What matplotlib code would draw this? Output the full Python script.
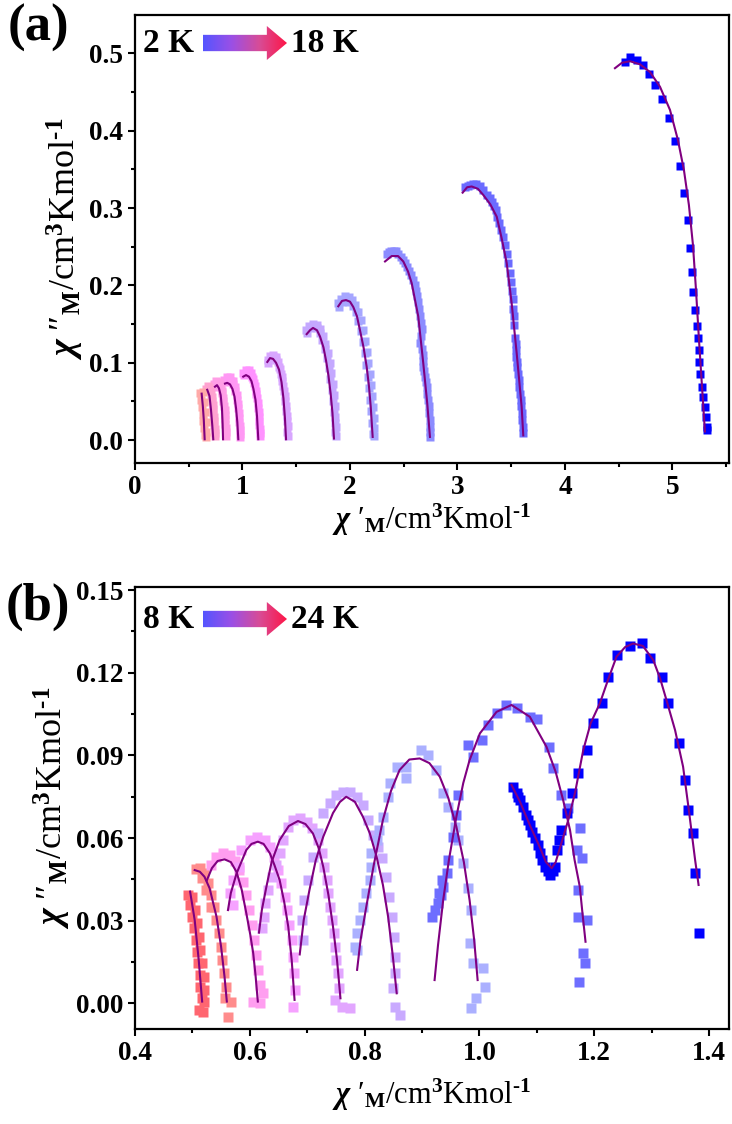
import numpy as np
import matplotlib
matplotlib.use("Agg")
import matplotlib.pyplot as plt
import matplotlib.ticker as mticker
from matplotlib.colors import LinearSegmentedColormap
from matplotlib.patches import Polygon

# ---- panel (a): 2 K -> 18 K, Cole-Cole data (chi', chi'') ----
a_colors = ["#0000ff", "#6b6bff", "#8c8cff", "#a6a6ff", "#c4a8ff", "#d8a6ff",
            "#ff92ff", "#ff98f4", "#ff9ee6", "#ffa2d0", "#ffaaa8"]

a_data = [
    [(4.558, 0.489), (4.605, 0.495), (4.667, 0.492), (4.723, 0.485), (4.779, 0.473),
     (4.837, 0.459), (4.902, 0.441), (4.965, 0.416), (5.023, 0.387), (5.070, 0.354),
     (5.110, 0.319), (5.147, 0.284), (5.163, 0.249), (5.181, 0.218), (5.193, 0.192),
     (5.212, 0.168), (5.225, 0.148), (5.237, 0.132), (5.244, 0.116), (5.249, 0.101),
     (5.256, 0.086), (5.272, 0.069), (5.287, 0.056), (5.302, 0.043), (5.312, 0.030),
     (5.318, 0.017), (5.318, 0.013)],
    [(3.070, 0.327), (3.116, 0.330), (3.172, 0.331), (3.240, 0.324), (3.277, 0.317),
     (3.318, 0.308), (3.355, 0.297), (3.389, 0.281), (3.426, 0.263), (3.458, 0.241),
     (3.488, 0.216), (3.504, 0.193), (3.519, 0.170), (3.528, 0.149), (3.535, 0.132),
     (3.544, 0.116), (3.551, 0.101), (3.566, 0.086), (3.575, 0.069), (3.588, 0.052),
     (3.597, 0.035), (3.607, 0.017), (3.612, 0.009),
     (3.094, 0.329), (3.146, 0.331), (3.205, 0.329), (3.298, 0.313), (3.337, 0.303),
     (3.372, 0.289), (3.408, 0.272), (3.442, 0.252), (3.473, 0.229), (3.496, 0.205),
     (3.512, 0.182), (3.524, 0.160), (3.540, 0.124), (3.548, 0.108), (3.558, 0.094),
     (3.570, 0.078), (3.582, 0.060), (3.593, 0.044), (3.602, 0.026)],
    [(2.341, 0.241), (2.381, 0.244), (2.428, 0.244), (2.472, 0.237), (2.512, 0.229),
     (2.552, 0.219), (2.589, 0.207), (2.614, 0.193), (2.635, 0.178), (2.651, 0.160),
     (2.667, 0.143), (2.651, 0.125), (2.676, 0.110), (2.682, 0.095), (2.698, 0.082),
     (2.714, 0.069), (2.728, 0.052), (2.738, 0.035), (2.744, 0.017), (2.744, 0.004),
     (2.360, 0.243), (2.405, 0.245), (2.450, 0.241), (2.492, 0.233), (2.532, 0.224),
     (2.571, 0.213), (2.602, 0.200), (2.625, 0.186), (2.643, 0.169), (2.660, 0.151),
     (2.664, 0.134), (2.668, 0.118), (2.680, 0.102), (2.690, 0.089), (2.706, 0.075),
     (2.721, 0.060), (2.733, 0.044), (2.741, 0.026), (2.744, 0.010)],
    [(1.888, 0.177), (1.916, 0.183), (1.953, 0.186), (1.991, 0.185), (2.019, 0.181),
     (2.047, 0.175), (2.074, 0.166), (2.098, 0.155), (2.121, 0.142), (2.140, 0.128),
     (2.158, 0.114), (2.172, 0.100), (2.186, 0.085), (2.195, 0.071), (2.205, 0.057),
     (2.214, 0.043), (2.219, 0.028), (2.223, 0.016), (2.223, 0.005),
     (1.895, 0.172), (1.925, 0.178), (1.960, 0.180), (1.995, 0.178), (2.025, 0.173),
     (2.052, 0.165), (2.078, 0.154), (2.100, 0.141), (2.120, 0.127), (2.138, 0.112),
     (2.153, 0.097), (2.167, 0.082), (2.180, 0.067), (2.190, 0.052), (2.199, 0.037),
     (2.206, 0.022), (2.210, 0.008)],
    [(1.591, 0.142), (1.619, 0.147), (1.656, 0.150), (1.693, 0.149), (1.721, 0.144),
     (1.749, 0.135), (1.772, 0.124), (1.795, 0.113), (1.814, 0.100), (1.828, 0.087),
     (1.842, 0.072), (1.851, 0.058), (1.860, 0.044), (1.865, 0.030), (1.870, 0.017),
     (1.870, 0.005),
     (1.600, 0.139), (1.630, 0.145), (1.660, 0.147), (1.690, 0.145), (1.718, 0.139),
     (1.742, 0.129), (1.764, 0.118), (1.785, 0.106), (1.803, 0.093), (1.818, 0.079),
     (1.832, 0.065), (1.843, 0.050), (1.852, 0.036), (1.858, 0.022), (1.862, 0.010)],
    [(1.237, 0.103), (1.256, 0.109), (1.284, 0.110), (1.312, 0.107), (1.330, 0.101),
     (1.349, 0.092), (1.367, 0.082), (1.381, 0.070), (1.395, 0.057), (1.405, 0.044),
     (1.414, 0.031), (1.419, 0.018), (1.423, 0.005),
     (1.240, 0.100), (1.262, 0.106), (1.290, 0.107), (1.316, 0.103), (1.338, 0.095),
     (1.356, 0.086), (1.372, 0.076), (1.386, 0.063), (1.398, 0.050), (1.407, 0.037),
     (1.413, 0.024), (1.417, 0.011)],
    [(1.005, 0.087), (1.028, 0.091), (1.056, 0.091), (1.079, 0.087), (1.102, 0.079),
     (1.116, 0.070), (1.130, 0.060), (1.140, 0.048), (1.149, 0.036), (1.158, 0.025),
     (1.163, 0.014), (1.163, 0.005),
     (1.012, 0.084), (1.038, 0.088), (1.064, 0.087), (1.088, 0.082), (1.107, 0.074),
     (1.122, 0.064), (1.134, 0.054), (1.144, 0.042), (1.152, 0.030), (1.157, 0.019),
     (1.160, 0.009)],
    [(0.828, 0.078), (0.856, 0.082), (0.884, 0.081), (0.912, 0.076), (0.930, 0.069),
     (0.947, 0.058), (0.958, 0.047), (0.967, 0.035), (0.972, 0.023), (0.977, 0.013),
     (0.977, 0.004),
     (0.835, 0.075), (0.862, 0.078), (0.890, 0.077), (0.916, 0.072), (0.934, 0.063),
     (0.950, 0.052), (0.961, 0.041), (0.968, 0.029), (0.973, 0.018), (0.975, 0.008)],
    [(0.735, 0.072), (0.758, 0.076), (0.781, 0.075), (0.800, 0.070), (0.814, 0.061),
     (0.823, 0.050), (0.833, 0.039), (0.837, 0.027), (0.842, 0.016), (0.842, 0.005),
     (0.742, 0.069), (0.765, 0.073), (0.788, 0.071), (0.806, 0.064), (0.818, 0.055),
     (0.828, 0.044), (0.835, 0.032), (0.839, 0.021), (0.842, 0.010)],
    [(0.660, 0.066), (0.679, 0.070), (0.698, 0.065), (0.712, 0.056), (0.721, 0.045),
     (0.730, 0.035), (0.735, 0.025), (0.740, 0.014), (0.744, 0.005),
     (0.668, 0.063), (0.690, 0.067), (0.705, 0.060), (0.716, 0.050), (0.725, 0.040),
     (0.732, 0.030), (0.737, 0.019), (0.742, 0.009)],
    [(0.605, 0.061), (0.614, 0.052), (0.623, 0.043), (0.633, 0.034), (0.637, 0.025),
     (0.642, 0.016), (0.647, 0.006), (0.633, 0.062), (0.642, 0.049), (0.651, 0.036),
     (0.660, 0.023), (0.665, 0.010), (0.665, 0.004)],
]

a_fits = [
    [(4.465, 0.481), (4.530, 0.488), (4.605, 0.490), (4.698, 0.486), (4.791, 0.476),
     (4.884, 0.457), (4.977, 0.427), (5.051, 0.388), (5.107, 0.349), (5.153, 0.304),
     (5.191, 0.252), (5.219, 0.194), (5.247, 0.129), (5.274, 0.071), (5.302, 0.011)],
    [(3.048, 0.320), (3.090, 0.327), (3.132, 0.328), (3.190, 0.325), (3.240, 0.317),
     (3.305, 0.305), (3.365, 0.289), (3.411, 0.261), (3.458, 0.229), (3.504, 0.177),
     (3.551, 0.112), (3.597, 0.043), (3.612, 0.006)],
    [(2.326, 0.231), (2.388, 0.238), (2.447, 0.238), (2.496, 0.231), (2.540, 0.218),
     (2.574, 0.203), (2.635, 0.160), (2.682, 0.099), (2.719, 0.047), (2.744, 0.004)],
    [(1.891, 0.173), (1.926, 0.180), (1.963, 0.181), (2.000, 0.179), (2.031, 0.172),
     (2.065, 0.160), (2.093, 0.142), (2.126, 0.120), (2.155, 0.095), (2.177, 0.069),
     (2.193, 0.043), (2.211, 0.004)],
    [(1.597, 0.137), (1.628, 0.142), (1.656, 0.145), (1.693, 0.142), (1.721, 0.134),
     (1.753, 0.120), (1.777, 0.103), (1.800, 0.083), (1.820, 0.060), (1.837, 0.035),
     (1.851, 0.002)],
    [(1.231, 0.101), (1.256, 0.106), (1.284, 0.105), (1.312, 0.100), (1.340, 0.091),
     (1.363, 0.075), (1.381, 0.054), (1.395, 0.028), (1.405, 0.001)],
    [(1.007, 0.082), (1.033, 0.084), (1.060, 0.082), (1.084, 0.076), (1.102, 0.066),
     (1.121, 0.052), (1.135, 0.031), (1.147, 0.001)],
    [(0.837, 0.073), (0.858, 0.074), (0.884, 0.072), (0.907, 0.066), (0.926, 0.056),
     (0.940, 0.041), (0.952, 0.023), (0.961, 0.001)],
    [(0.744, 0.069), (0.763, 0.071), (0.781, 0.067), (0.797, 0.058), (0.809, 0.041),
     (0.815, 0.021), (0.819, 0.001)],
    [(0.672, 0.065), (0.693, 0.057), (0.707, 0.039), (0.719, 0.019), (0.728, 0.001)],
    [(0.620, 0.060), (0.631, 0.044), (0.640, 0.026), (0.648, 0.001)],
]

# ---- panel (b): 8 K -> 24 K ----
b_colors = ["#0000ff", "#6e6eff", "#abb0ff", "#c9aaff", "#e2a6ff",
            "#f6a2ff", "#ff9ef0", "#ff8c8c", "#ff6670"]

b_data = [
    [(1.059, 0.0786), (1.065, 0.0762), (1.068, 0.0749), (1.071, 0.0738), (1.076, 0.0714),
     (1.082, 0.0684), (1.085, 0.0666), (1.088, 0.0647), (1.092, 0.0622), (1.097, 0.0600),
     (1.102, 0.0575), (1.106, 0.0545), (1.110, 0.0521), (1.114, 0.0496), (1.119, 0.0481),
     (1.123, 0.0466), (1.128, 0.0481), (1.132, 0.0496), (1.135, 0.0557), (1.139, 0.0593),
     (1.143, 0.0629), (1.152, 0.0690), (1.161, 0.0762), (1.172, 0.0835), (1.187, 0.0919),
     (1.198, 0.1016), (1.213, 0.1089), (1.225, 0.1185), (1.239, 0.1264), (1.262, 0.1297),
     (1.283, 0.1306), (1.297, 0.1252), (1.319, 0.1185), (1.329, 0.1089), (1.348, 0.0944),
     (1.358, 0.0811), (1.364, 0.0702), (1.372, 0.0617), (1.375, 0.0472), (1.382, 0.0255)],
    [(0.917, 0.0315), (0.922, 0.0339), (0.928, 0.0363), (0.934, 0.0394), (0.937, 0.0424),
     (0.929, 0.0401), (0.935, 0.0448), (0.943, 0.0472), (0.946, 0.0520), (0.954, 0.0605),
     (0.960, 0.0684), (0.963, 0.0756), (0.980, 0.0938), (0.989, 0.0895), (1.004, 0.0956),
     (1.015, 0.1010), (1.030, 0.1053), (1.047, 0.1083), (1.065, 0.1071), (1.088, 0.1040),
     (1.100, 0.1031), (1.122, 0.0931), (1.129, 0.0853), (1.143, 0.0756), (1.155, 0.0708),
     (1.175, 0.0635), (1.170, 0.0557), (1.178, 0.0527), (1.172, 0.0412), (1.172, 0.0315),
     (1.187, 0.0303), (1.181, 0.0182), (1.184, 0.0146), (1.174, 0.0079)],
    [(0.783, 0.0206), (0.786, 0.0194), (0.786, 0.0255), (0.792, 0.0303), (0.797, 0.0351),
     (0.803, 0.0400), (0.809, 0.0448), (0.812, 0.0496), (0.812, 0.0545), (0.821, 0.0593),
     (0.826, 0.0629), (0.832, 0.0678), (0.841, 0.0750), (0.844, 0.0799), (0.856, 0.0859),
     (0.873, 0.0859), (0.873, 0.0817), (0.899, 0.0919), (0.911, 0.0901), (0.925, 0.0847),
     (0.937, 0.0762), (0.946, 0.0714), (0.957, 0.0641), (0.963, 0.0593), (0.972, 0.0509),
     (0.980, 0.0418), (0.986, 0.0339), (0.983, 0.0218), (0.989, 0.0146), (1.007, 0.0128),
     (1.010, 0.0061), (0.995, 0.0019), (0.986, -0.0017)],
    [(0.693, 0.0230), (0.691, 0.0303), (0.694, 0.0375), (0.701, 0.0448), (0.710, 0.0532),
     (0.719, 0.0617), (0.728, 0.0690), (0.739, 0.0726), (0.751, 0.0756), (0.763, 0.0768),
     (0.774, 0.0768), (0.786, 0.0750), (0.797, 0.0720), (0.806, 0.0666), (0.814, 0.0611),
     (0.824, 0.0569), (0.831, 0.0527), (0.837, 0.0460), (0.843, 0.0387), (0.847, 0.0315),
     (0.851, 0.0242), (0.853, 0.0170), (0.853, 0.0110), (0.850, 0.0055), (0.853, -0.0012),
     (0.861, -0.0042)],
    [(0.622, 0.0273), (0.624, 0.0315), (0.626, 0.0363), (0.632, 0.0412), (0.638, 0.0460),
     (0.645, 0.0502), (0.652, 0.0545), (0.658, 0.0593), (0.667, 0.0641), (0.675, 0.0666),
     (0.687, 0.0672), (0.699, 0.0659), (0.709, 0.0635), (0.719, 0.0593), (0.725, 0.0545),
     (0.729, 0.0496), (0.734, 0.0448), (0.736, 0.0400), (0.739, 0.0351), (0.744, 0.0303),
     (0.746, 0.0255), (0.748, 0.0206), (0.751, 0.0158), (0.754, 0.0110), (0.756, 0.0055),
     (0.748, 0.0013), (0.760, -0.0012), (0.774, -0.0018)],
    [(0.565, 0.0400), (0.571, 0.0357), (0.571, 0.0448), (0.582, 0.0496), (0.585, 0.0557),
     (0.600, 0.0593), (0.612, 0.0605), (0.626, 0.0593), (0.635, 0.0569), (0.643, 0.0532),
     (0.649, 0.0484), (0.655, 0.0436), (0.661, 0.0387), (0.664, 0.0339), (0.668, 0.0285),
     (0.673, 0.0230), (0.675, 0.0170), (0.677, 0.0110), (0.679, 0.0049), (0.675, -0.0012)],
    [(0.533, 0.0502), (0.542, 0.0533), (0.553, 0.0545), (0.565, 0.0539), (0.574, 0.0518),
     (0.581, 0.0484), (0.588, 0.0442), (0.594, 0.0394), (0.599, 0.0339), (0.603, 0.0285),
     (0.607, 0.0230), (0.610, 0.0176), (0.614, 0.0122), (0.617, 0.0067), (0.623, 0.0037),
     (0.606, 0.0007), (0.617, 0.0001)],
    [(0.506, 0.0487), (0.513, 0.0490), (0.520, 0.0474), (0.527, 0.0436), (0.533, 0.0394),
     (0.516, 0.0454), (0.524, 0.0412), (0.533, 0.0351), (0.538, 0.0349), (0.542, 0.0303),
     (0.546, 0.0255), (0.549, 0.0206), (0.552, 0.0158), (0.555, 0.0110), (0.558, 0.0061),
     (0.556, 0.0019), (0.567, 0.0007), (0.562, -0.0048)],
    [(0.492, 0.0394), (0.496, 0.0357), (0.500, 0.0315), (0.503, 0.0273), (0.506, 0.0230),
     (0.508, 0.0188), (0.510, 0.0146), (0.513, 0.0103), (0.514, 0.0061), (0.516, 0.0019),
     (0.511, -0.0024), (0.518, -0.0030), (0.500, 0.0387), (0.504, 0.0339), (0.508, 0.0291),
     (0.511, 0.0242), (0.514, 0.0194), (0.517, 0.0146), (0.520, 0.0097), (0.521, 0.0049),
     (0.521, 0.0007)],
]

b_fits = [
    [(1.056, 0.0793), (1.071, 0.0731), (1.088, 0.0647), (1.106, 0.0564), (1.116, 0.0513),
     (1.126, 0.0491), (1.133, 0.0513), (1.142, 0.0575), (1.155, 0.0666), (1.167, 0.0767),
     (1.181, 0.0919), (1.194, 0.1017), (1.210, 0.1089), (1.224, 0.1173), (1.239, 0.1258),
     (1.254, 0.1293), (1.268, 0.1306), (1.285, 0.1297), (1.303, 0.1246), (1.315, 0.1179),
     (1.326, 0.1101), (1.341, 0.0992), (1.355, 0.0859), (1.365, 0.0702), (1.376, 0.0520),
     (1.382, 0.0430)],
    [(0.922, 0.0085), (0.928, 0.0212), (0.937, 0.0375), (0.947, 0.0521), (0.960, 0.0678),
     (0.972, 0.0800), (0.983, 0.0883), (1.001, 0.0980), (1.030, 0.1058), (1.056, 0.1083),
     (1.088, 0.1040), (1.117, 0.0931), (1.133, 0.0840), (1.146, 0.0738), (1.158, 0.0629),
     (1.166, 0.0520), (1.175, 0.0424), (1.180, 0.0321), (1.185, 0.0224)],
    [(0.787, 0.0122), (0.793, 0.0230), (0.803, 0.0351), (0.816, 0.0502), (0.832, 0.0666),
     (0.846, 0.0771), (0.861, 0.0847), (0.878, 0.0885), (0.896, 0.0889), (0.913, 0.0872),
     (0.931, 0.0823), (0.946, 0.0745), (0.960, 0.0641), (0.973, 0.0513), (0.983, 0.0375),
     (0.991, 0.0230), (0.997, 0.0085)],
    [(0.687, 0.0178), (0.694, 0.0303), (0.704, 0.0412), (0.715, 0.0520), (0.728, 0.0605),
     (0.745, 0.0691), (0.757, 0.0731), (0.768, 0.0750), (0.783, 0.0732), (0.797, 0.0678),
     (0.809, 0.0618), (0.821, 0.0532), (0.832, 0.0430), (0.841, 0.0315), (0.849, 0.0176),
     (0.856, 0.0037)],
    [(0.616, 0.0257), (0.621, 0.0339), (0.629, 0.0424), (0.638, 0.0513), (0.652, 0.0593),
     (0.668, 0.0644), (0.684, 0.0662), (0.697, 0.0651), (0.710, 0.0617), (0.720, 0.0564),
     (0.728, 0.0496), (0.737, 0.0394), (0.745, 0.0279), (0.752, 0.0158), (0.758, 0.0019)],
    [(0.562, 0.0339), (0.567, 0.0401), (0.577, 0.0472), (0.594, 0.0557), (0.603, 0.0579),
     (0.614, 0.0587), (0.624, 0.0579), (0.635, 0.0545), (0.643, 0.0502), (0.652, 0.0448),
     (0.660, 0.0368), (0.667, 0.0279), (0.673, 0.0158), (0.678, 0.0013)],
    [(0.525, 0.0446), (0.534, 0.0491), (0.544, 0.0517), (0.556, 0.0523), (0.567, 0.0513),
     (0.577, 0.0477), (0.586, 0.0412), (0.594, 0.0327), (0.601, 0.0248), (0.606, 0.0182),
     (0.610, 0.0103), (0.614, 0.0007)],
    [(0.504, 0.0484), (0.513, 0.0478), (0.521, 0.0460), (0.530, 0.0418), (0.542, 0.0315),
     (0.550, 0.0206), (0.556, 0.0097), (0.560, 0.0007)],
    [(0.496, 0.0406), (0.504, 0.0303), (0.511, 0.0158), (0.517, 0.0007)],
]

plt.rcParams["font.family"] = ["Liberation Serif", "DejaVu Serif"]
plt.rcParams["font.weight"] = "bold"
plt.rcParams["mathtext.fontset"] = "custom"
plt.rcParams["mathtext.rm"] = "Liberation Serif:bold"
plt.rcParams["mathtext.bf"] = "Liberation Serif:bold"
plt.rcParams["mathtext.it"] = "Liberation Serif:bold:italic"
plt.rcParams["mathtext.default"] = "rm"

W, H = 732, 1124
fig = plt.figure(figsize=(W / 100, H / 100), dpi=100)

XLABEL = "$\\mathit{\\chi}$ ′$_{M}$/cm$^{3}$Kmol$^{\u2010 1}$"
YLABEL = "$\\mathit{\\chi}$ ″$_{M}$/cm$^{3}$Kmol$^{\u2010 1}$"


def px_rect(left, top, right, bottom):
    return [left / W, 1 - bottom / H, (right - left) / W, (bottom - top) / H]


def style_axes(ax):
    for sp in ax.spines.values():
        sp.set_linewidth(1.6)
    ax.tick_params(which="both", direction="out", top=False, right=False,
                   width=1.5, labelsize=19.5)
    ax.tick_params(which="major", length=5)
    ax.tick_params(which="minor", length=3)


def cole_cole(ax, data, fits, colors, ms):
    for pts, fit, c in zip(data, fits, colors):
        x, y = np.array(pts).T
        ax.plot(x, y, "s", ms=ms, color=c, mec="none", zorder=2)
        fx, fy = np.array(fit).T
        ax.plot(fx, fy, "-", color="#800080", lw=1.5, zorder=3)


def grad_arrow(left, top, right, bottom):
    aax = fig.add_axes(px_rect(left, top, right, bottom))
    aax.set_axis_off()
    cmap = LinearSegmentedColormap.from_list(
        "tk", ["#5555ff", "#9a50e6", "#d84c96", "#ff1444"])
    img = aax.imshow(np.linspace(0, 1, 256)[None, :], cmap=cmap, aspect="auto",
                     extent=[0, 1, 0, 1], origin="lower")
    head = 0.76
    arrow = Polygon([(0, 0.26), (head, 0.26), (head, 0.0), (1, 0.5),
                     (head, 1.0), (head, 0.74), (0, 0.74)],
                    closed=True, transform=aax.transData, facecolor="none",
                    edgecolor="none")
    aax.add_patch(arrow)
    img.set_clip_path(arrow)
    aax.set_xlim(0, 1)
    aax.set_ylim(0, 1)


def ftext(x, y, s, **kw):
    fig.text(x / W, 1 - y / H, s, fontweight="bold", **kw)


# ---------- (a) ----------
ax1 = fig.add_axes(px_rect(135, 15, 729, 463.3))
cole_cole(ax1, a_data, a_fits, a_colors, 6)
ax1.set_xlim(0, 5.526)
ax1.set_ylim(-0.0301, 0.5498)
ax1.xaxis.set_major_locator(mticker.MultipleLocator(1))
ax1.xaxis.set_minor_locator(mticker.MultipleLocator(0.5))
ax1.yaxis.set_major_locator(mticker.MultipleLocator(0.1))
ax1.yaxis.set_minor_locator(mticker.MultipleLocator(0.05))
ax1.xaxis.set_major_formatter(mticker.FormatStrFormatter("%d"))
ax1.yaxis.set_major_formatter(mticker.FormatStrFormatter("%.1f"))
style_axes(ax1)
ax1.set_xlabel(XLABEL, fontsize=22, labelpad=1)
ax1.set_ylabel(YLABEL, fontsize=26, labelpad=2)

ftext(8, 28, "(a)", fontsize=38, ha="left", va="center")
ftext(143, 43, "2 K", fontsize=24, ha="left", va="center")
ftext(291, 43, "18 K", fontsize=24, ha="left", va="center")
grad_arrow(203, 26, 287, 60)

# ---------- (b) ----------
ax2 = fig.add_axes(px_rect(135, 586.7, 729, 1029.3))
cole_cole(ax2, b_data[::-1], b_fits[::-1], b_colors[::-1], 7)
ax2.set_xlim(0.4, 1.435)
ax2.set_ylim(-0.00936, 0.1512)
ax2.xaxis.set_major_locator(mticker.MultipleLocator(0.2))
ax2.xaxis.set_minor_locator(mticker.MultipleLocator(0.1))
ax2.yaxis.set_major_locator(mticker.MultipleLocator(0.03))
ax2.yaxis.set_minor_locator(mticker.MultipleLocator(0.015))
ax2.xaxis.set_major_formatter(mticker.FormatStrFormatter("%.1f"))
ax2.yaxis.set_major_formatter(mticker.FormatStrFormatter("%.2f"))
style_axes(ax2)
ax2.set_xlabel(XLABEL, fontsize=22, labelpad=8)
ax2.set_ylabel(YLABEL, fontsize=26, labelpad=2)

ftext(6, 607, "(b)", fontsize=38, ha="left", va="center")
ftext(143, 619, "8 K", fontsize=24, ha="left", va="center")
ftext(291, 619, "24 K", fontsize=24, ha="left", va="center")
grad_arrow(203, 602, 287, 636)

fig.savefig("out.png", dpi=100)
